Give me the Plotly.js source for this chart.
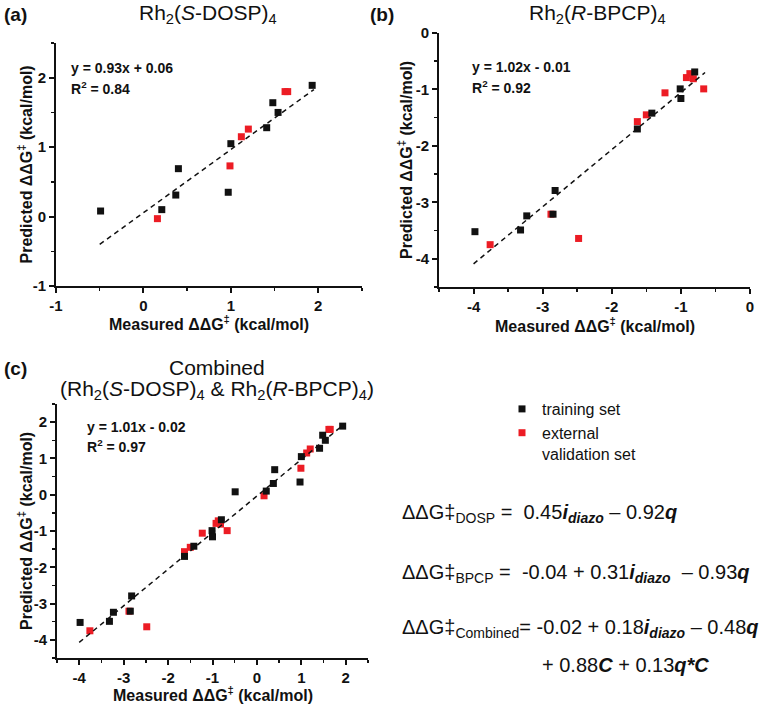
<!DOCTYPE html>
<html>
<head>
<meta charset="utf-8">
<script src="https://cdn.plot.ly/plotly-3.0.1.min.js"></script>
<style>html,body{margin:0;padding:0;background:#fff;}#chart{width:780px;height:704px;}</style>
</head>
<body>
<div id="chart"></div>
<script>
// ---- data ----
// Rh2(S-DOSP)4
var dospTrainX = [-0.49, 0.21, 0.37, 0.40, 0.97, 1.00, 1.41, 1.48, 1.54, 1.93];
var dospTrainY = [0.08, 0.10, 0.31, 0.69, 0.35, 1.05, 1.28, 1.64, 1.50, 1.89];
var dospValX = [0.16, 0.99, 1.12, 1.20, 1.62, 1.65];
var dospValY = [-0.03, 0.73, 1.15, 1.26, 1.80, 1.80];
// Rh2(R-BPCP)4
var bpcpTrainX = [-3.98, -3.32, -3.23, -2.85, -2.82, -1.63, -1.42, -1.01, -1.00, -0.80];
var bpcpTrainY = [-3.52, -3.49, -3.24, -3.21, -2.79, -1.70, -1.42, -0.99, -1.16, -0.69];
var bpcpValX = [-3.76, -2.88, -2.48, -1.63, -1.50, -1.23, -0.92, -0.87, -0.82, -0.67];
var bpcpValY = [-3.75, -3.21, -3.64, -1.57, -1.45, -1.06, -0.79, -0.72, -0.81, -0.99];
// fitted lines (end points)
var fitAX = [-0.50, 1.95];
var fitAY = [-0.40, 1.83];
var fitBX = [-4.00, -0.65];
var fitBY = [-4.09, -0.70];
var fitCX = [-4.00, 1.92];
var fitCY = [-4.07, 1.90];
// tick labels
var ticksA = [-1, 0, 1, 2];
var tickTextA = ['-1', '0', '1', '2'];
var ticksB = [-4, -3, -2, -1, 0];
var tickTextB = ['-4', '-3', '-2', '-1', '0'];
var ticksC = [-4, -3, -2, -1, 0, 1, 2];
var tickTextC = ['-4', '-3', '-2', '-1', '0', '1', '2'];
// text
var xTitle = 'Measured ΔΔG<sup>‡</sup> (kcal/mol)';
var yTitle = 'Predicted ΔΔG<sup>‡</sup> (kcal/mol)';
var fitTextA = ['y = 0.93x + 0.06', 'R<sup>2</sup> = 0.84'];
var fitTextB = ['y = 1.02x - 0.01', 'R<sup>2</sup> = 0.92'];
var fitTextC = ['y = 1.01x - 0.02', 'R<sup>2</sup> = 0.97'];
var seriesNames = ['training set', 'external<br>validation set'];

var combTrainX = dospTrainX.concat(bpcpTrainX);
var combTrainY = dospTrainY.concat(bpcpTrainY);
var combValX = dospValX.concat(bpcpValX);
var combValY = dospValY.concat(bpcpValY);

var BLACK = '#111111';
var RED = '#ec1c24';
var FONT = 'Liberation Sans, Arial, Helvetica, sans-serif';

function pts(x, y, color, xa, ya, name, show, rank) {
  return {type: 'scatter', mode: 'markers', x: x, y: y, xaxis: xa, yaxis: ya,
    name: name, showlegend: show, legendrank: rank,
    marker: {symbol: 'square', size: 7, color: color, line: {width: 0}}};
}
function fit(x, y, xa, ya) {
  return {type: 'scatter', mode: 'lines', x: x, y: y, xaxis: xa, yaxis: ya,
    showlegend: false, line: {color: BLACK, width: 1.5, dash: '5px,4px'}};
}

var data = [
  pts(dospValX, dospValY, RED, 'x', 'y', seriesNames[1], false, 2),
  pts(dospTrainX, dospTrainY, BLACK, 'x', 'y', seriesNames[0], false, 1),
  fit(fitAX, fitAY, 'x', 'y'),
  pts(bpcpValX, bpcpValY, RED, 'x2', 'y2', seriesNames[1], false, 2),
  pts(bpcpTrainX, bpcpTrainY, BLACK, 'x2', 'y2', seriesNames[0], false, 1),
  fit(fitBX, fitBY, 'x2', 'y2'),
  pts(combValX, combValY, RED, 'x3', 'y3', seriesNames[1], true, 2),
  pts(combTrainX, combTrainY, BLACK, 'x3', 'y3', seriesNames[0], true, 1),
  fit(fitCX, fitCY, 'x3', 'y3')
];

function bold(arr) { return arr.map(function (s) { return '<b>' + s + '</b>'; }); }

function axis(range, tv, tt, domain, anchor) {
  return {
    range: range, domain: domain, anchor: anchor,
    tickmode: 'array', tickvals: tv, ticktext: bold(tt),
    showline: true, linecolor: BLACK, linewidth: 2, mirror: false,
    ticks: 'outside', ticklen: 5, tickwidth: 2, tickcolor: BLACK,
    minor: {dtick: 0.5, tick0: 0, ticks: 'outside', ticklen: 3, tickwidth: 1.5, tickcolor: BLACK, showgrid: false},
    showgrid: false, zeroline: false,
    tickfont: {family: FONT, size: 15, color: BLACK, weight: 'bold'},
    automargin: false, fixedrange: true
  };
}

function px(v) { return v / 780; }
function py(v) { return 1 - v / 704; }

var annotations = [];
function ann(text, x, y, size, opts) {
  var a = {text: text, xref: 'paper', yref: 'paper', x: x, y: y, showarrow: false,
    xanchor: 'left', yanchor: 'middle', font: {family: FONT, size: size, color: BLACK}};
  for (var k in opts) a[k] = opts[k];
  annotations.push(a);
}
// axis titles (placed relative to each subplot)
function axisTitles(xa, ya, xShift, yShift) {
  annotations.push({text: '<b>' + xTitle + '</b>', xref: xa + ' domain', yref: ya + ' domain', x: 0.5, y: 0,
    yshift: xShift, xanchor: 'center', yanchor: 'middle', showarrow: false,
    font: {family: FONT, size: 16, color: BLACK}});
  annotations.push({text: '<b>' + yTitle + '</b>', xref: xa + ' domain', yref: ya + ' domain', x: 0, y: 0.5,
    xshift: yShift, xanchor: 'center', yanchor: 'middle', textangle: -90, showarrow: false,
    font: {family: FONT, size: 16, color: BLACK}});
}
axisTitles('x', 'y', -37, -31);
axisTitles('x2', 'y2', -38, -34);
axisTitles('x3', 'y3', -36, -32);
// panel labels and titles
ann('<b>(a)</b>', px(2), py(14), 19, {});
ann('Rh<sub>2</sub>(<i>S</i>-DOSP)<sub>4</sub>', px(208), py(14), 21, {xanchor: 'center'});
ann('<b>(b)</b>', px(368), py(14), 19, {});
ann('Rh<sub>2</sub>(<i>R</i>-BPCP)<sub>4</sub>', px(597), py(14), 21, {xanchor: 'center'});
ann('<b>(c)</b>', px(2), py(368), 19, {});
ann('Combined', px(217), py(355), 21, {xanchor: 'center', yanchor: 'top', borderpad: 0});
ann('(Rh<sub>2</sub>(<i>S</i>-DOSP)<sub>4</sub> &amp; Rh<sub>2</sub>(<i>R</i>-BPCP)<sub>4</sub>)', px(217), py(376), 21, {xanchor: 'center', yanchor: 'top', borderpad: 0});
// fit equations inside plots
function fitAnn(lines, xr, yr, x, y1, y2) {
  annotations.push({text: '<b>' + lines[0] + '</b>', xref: xr + ' domain', yref: yr + ' domain', x: x, y: y1,
    showarrow: false, xanchor: 'left', yanchor: 'middle', font: {family: FONT, size: 14, color: BLACK}});
  annotations.push({text: '<b>' + lines[1] + '</b>', xref: xr + ' domain', yref: yr + ' domain', x: x, y: y2,
    showarrow: false, xanchor: 'left', yanchor: 'middle', font: {family: FONT, size: 14, color: BLACK}});
}
fitAnn(fitTextA, 'x', 'y', 0.044, 0.898, 0.815);
fitAnn(fitTextB, 'x2', 'y2', 0.099, 0.868, 0.787);
fitAnn(fitTextC, 'x3', 'y3', 0.089, 0.908, 0.833);
// model equations
var bi = function (s) { return '<b><i>' + s + '</i></b>'; };
ann('ΔΔG‡<sub>DOSP</sub> =  0.45' + bi('i') + '<sub>' + bi('diazo') + '</sub> – 0.92' + bi('q'), px(400), py(513), 20, {});
ann('ΔΔG‡<sub>BPCP</sub> =  -0.04 + 0.31' + bi('i') + '<sub>' + bi('diazo') + '</sub>  – 0.93' + bi('q'), px(400), py(573), 20, {});
ann('ΔΔG‡<sub>Combined</sub>= -0.02 + 0.18' + bi('i') + '<sub>' + bi('diazo') + '</sub> – 0.48' + bi('q'), px(400), py(628), 20, {});
ann('+ 0.88' + bi('C') + ' + 0.13' + bi('q*C'), px(540), py(665), 20, {});

var layout = {
  width: 780, height: 704,
  margin: {l: 0, r: 0, t: 0, b: 0},
  paper_bgcolor: '#ffffff', plot_bgcolor: '#ffffff',
  font: {family: FONT, color: BLACK},
  xaxis: axis([-1, 2.5], ticksA, tickTextA, [px(56), px(362)], 'y'),
  yaxis: axis([-1, 2.5], ticksA, tickTextA, [py(286), py(43)], 'x'),
  xaxis2: axis([-4.5, 0], ticksB, tickTextB, [px(439), px(750)], 'y2'),
  yaxis2: axis([-4.5, 0], ticksB, tickTextB, [py(287), py(33)], 'x2'),
  xaxis3: axis([-4.5, 2.5], ticksC, tickTextC, [px(57), px(368)], 'y3'),
  yaxis3: axis([-4.5, 2.5], ticksC, tickTextC, [py(658), py(404)], 'x3'),
  showlegend: true,
  legend: {x: px(502), y: py(392), xanchor: 'left', yanchor: 'top',
    font: {family: FONT, size: 16, color: BLACK}, bgcolor: 'rgba(0,0,0,0)',
    itemwidth: 30, tracegroupgap: 0, valign: 'top', itemclick: false, itemdoubleclick: false},
  annotations: annotations
};

Plotly.newPlot('chart', data, layout, {staticPlot: true, displayModeBar: false});
</script>
</body>
</html>
